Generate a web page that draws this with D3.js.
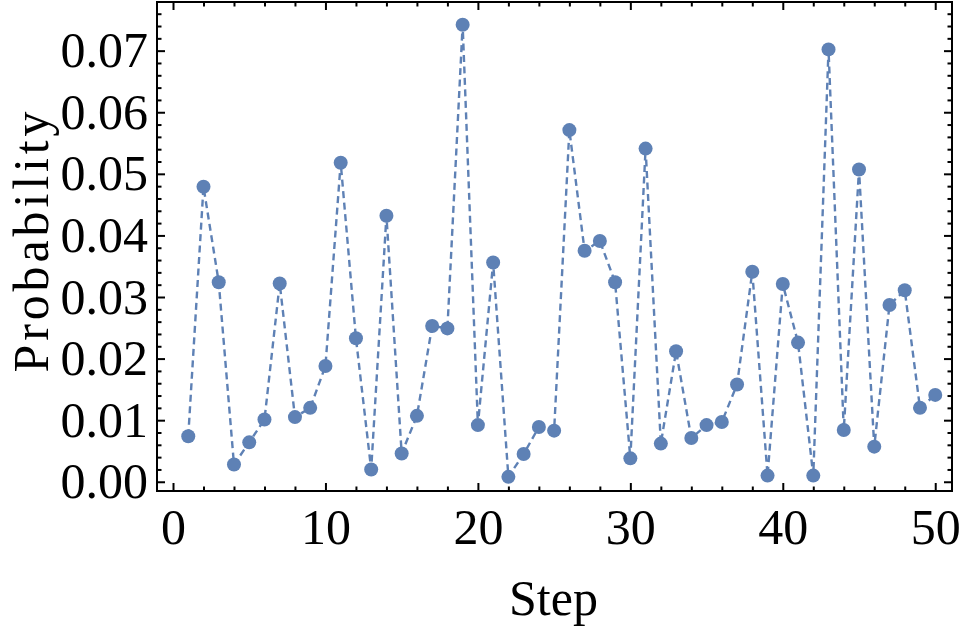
<!DOCTYPE html>
<html lang="en">
<head>
    <meta charset="UTF-8">
    <title>Probability by Step</title>
    <script src="https://d3js.org/d3.v7.min.js"></script>
    <style>
        body { margin: 0; background: #fff; }
        svg { display: block; }
        .axis text { font-family: "Liberation Serif", "Times New Roman", serif; font-size: 50px; fill: #000; }
        .axis line { stroke: #000; stroke-width: 2; }
        .axis path { display: none; }
        .label { font-family: "Liberation Serif", "Times New Roman", serif; font-size: 50px; fill: #000; }
    </style>
</head>
<body>
    <svg id="chart" width="961" height="628"></svg>
    <script>
        // Data
        const steps = [1, 2, 3, 4, 5, 6, 7, 8, 9, 10,
                       11, 12, 13, 14, 15, 16, 17, 18, 19, 20,
                       21, 22, 23, 24, 25, 26, 27, 28, 29, 30,
                       31, 32, 33, 34, 35, 36, 37, 38, 39, 40,
                       41, 42, 43, 44, 45, 46, 47, 48, 49, 50];
        const probability = [0.0074, 0.0479, 0.0324, 0.0028, 0.0064, 0.0101, 0.0322, 0.0105, 0.0120, 0.0188,
                             0.0518, 0.0233, 0.0020, 0.0432, 0.0046, 0.0107, 0.0253, 0.0249, 0.0742, 0.0092,
                             0.0356, 0.0008, 0.0045, 0.0089, 0.0083, 0.0571, 0.0375, 0.0391, 0.0324, 0.0038,
                             0.0541, 0.0062, 0.0212, 0.0071, 0.0092, 0.0097, 0.0158, 0.0341, 0.0010, 0.0321,
                             0.0226, 0.0010, 0.0702, 0.0084, 0.0507, 0.0057, 0.0287, 0.0311, 0.0120, 0.0141];
        const xTicks = [0, 10, 20, 30, 40, 50];
        const xMinorTicks = [2, 4, 6, 8, 12, 14, 16, 18, 22, 24, 26, 28, 32, 34, 36, 38, 42, 44, 46, 48];
        const yTicks = [0, 0.01, 0.02, 0.03, 0.04, 0.05, 0.06, 0.07];
        const yMinorTicks = [0.002, 0.004, 0.006, 0.008, 0.012, 0.014, 0.016, 0.018,
                             0.022, 0.024, 0.026, 0.028, 0.032, 0.034, 0.036, 0.038,
                             0.042, 0.044, 0.046, 0.048, 0.052, 0.054, 0.056, 0.058,
                             0.062, 0.064, 0.066, 0.068, 0.072, 0.074, 0.076];

        const data = steps.map((s, i) => ({ step: s, p: probability[i] }));

        // Frame of the plot
        const frameLeft = 157, frameRight = 952, frameTop = 2, frameBottom = 491;
        const color = "#5e81b5";

        const svg = d3.select("#chart");

        const x = d3.scaleLinear().domain([-1.05, 51.1]).range([frameLeft, frameRight]);
        const y = d3.scaleLinear().domain([-0.0015, 0.0779]).range([frameBottom, frameTop]);

        // axes (ticks point inward)
        svg.append("g").attr("class", "axis")
            .attr("transform", `translate(0,${frameBottom})`)
            .call(d3.axisBottom(x).tickValues(xTicks).tickFormat(d3.format("d")).tickSize(-8).tickPadding(17));
        svg.append("g").attr("class", "axis")
            .attr("transform", `translate(0,${frameBottom})`)
            .call(d3.axisBottom(x).tickValues(xMinorTicks).tickFormat("").tickSize(-4.5));
        svg.append("g").attr("class", "axis")
            .attr("transform", `translate(0,${frameTop})`)
            .call(d3.axisTop(x).tickValues(xTicks).tickFormat("").tickSize(-8));
        svg.append("g").attr("class", "axis")
            .attr("transform", `translate(0,${frameTop})`)
            .call(d3.axisTop(x).tickValues(xMinorTicks).tickFormat("").tickSize(-4.5));

        svg.append("g").attr("class", "axis")
            .attr("transform", `translate(${frameLeft},0)`)
            .call(d3.axisLeft(y).tickValues(yTicks).tickFormat(d3.format(".2f")).tickSize(-8).tickPadding(9));
        svg.append("g").attr("class", "axis")
            .attr("transform", `translate(${frameLeft},0)`)
            .call(d3.axisLeft(y).tickValues(yMinorTicks).tickFormat("").tickSize(-4.5));
        svg.append("g").attr("class", "axis")
            .attr("transform", `translate(${frameRight},0)`)
            .call(d3.axisRight(y).tickValues(yTicks).tickFormat("").tickSize(-8));
        svg.append("g").attr("class", "axis")
            .attr("transform", `translate(${frameRight},0)`)
            .call(d3.axisRight(y).tickValues(yMinorTicks).tickFormat("").tickSize(-4.5));

        // frame
        svg.append("rect")
            .attr("x", frameLeft).attr("y", frameTop)
            .attr("width", frameRight - frameLeft).attr("height", frameBottom - frameTop)
            .attr("fill", "none").attr("stroke", "#000").attr("stroke-width", 2);

        // dashed line joining the points
        const line = d3.line().x(d => x(d.step)).y(d => y(d.p));
        svg.append("path")
            .datum(data)
            .attr("d", line)
            .attr("fill", "none")
            .attr("stroke", color)
            .attr("stroke-width", 2.4)
            .attr("stroke-dasharray", "7,4.5");

        svg.selectAll(".dot")
            .data(data)
            .enter()
            .append("circle")
            .attr("class", "dot")
            .attr("cx", d => x(d.step))
            .attr("cy", d => y(d.p))
            .attr("r", 7)
            .attr("fill", color);

        // axis titles
        svg.append("text")
            .attr("class", "label")
            .attr("x", (frameLeft + frameRight) / 2 - 1)
            .attr("y", 615)
            .attr("text-anchor", "middle")
            .text("Step");

        svg.append("text")
            .attr("class", "label")
            .attr("transform", "translate(48,242) rotate(-90)")
            .attr("text-anchor", "middle")
            .attr("textLength", 261)
            .attr("lengthAdjust", "spacing")
            .text("Probability");
    </script>
</body>
</html>
